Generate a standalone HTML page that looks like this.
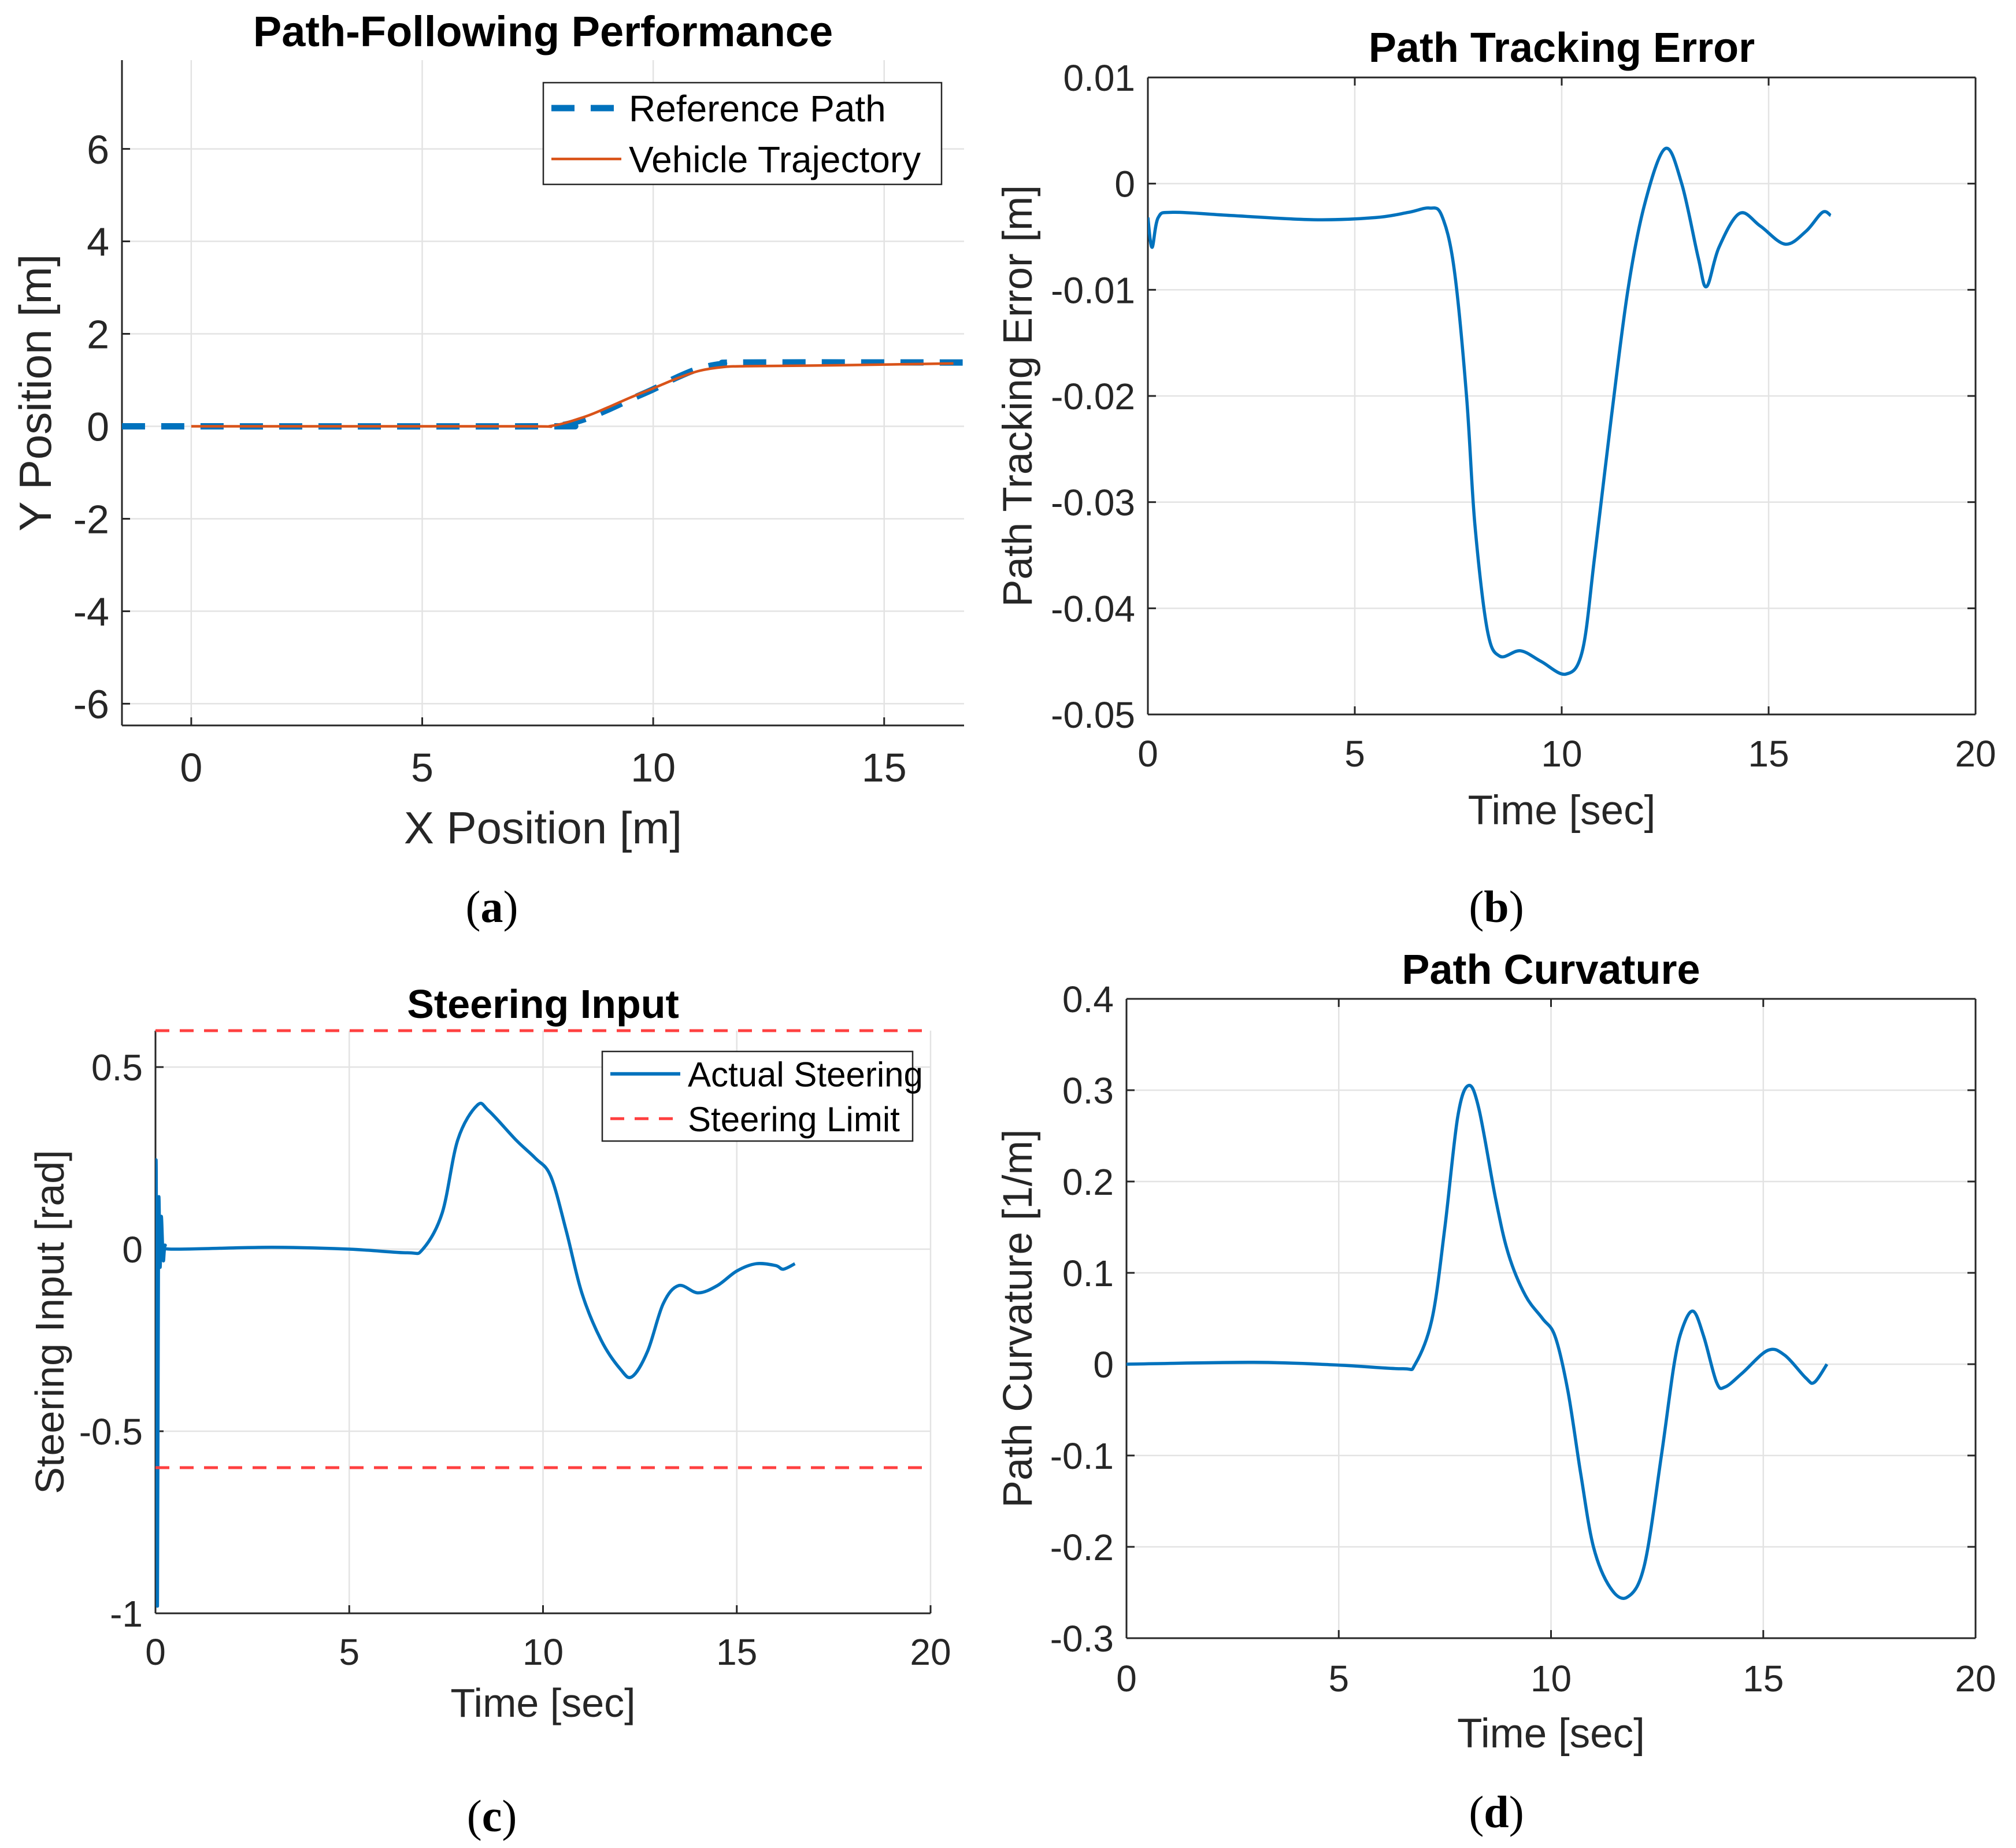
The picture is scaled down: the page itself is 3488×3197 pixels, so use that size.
<!DOCTYPE html>
<html><head><meta charset="utf-8"><style>
html,body{margin:0;padding:0;background:#fff;}
svg{display:block;font-family:"Liberation Sans",Arial,sans-serif;}
.cap{font-family:"Liberation Serif",serif;}
</style></head><body>
<svg id="fig" width="3488" height="3197" viewBox="0 0 3488 3197" xmlns="http://www.w3.org/2000/svg"></svg>
<script>
// ---- Panel (a) data ----
const refX = [-1.5, 7.5, 8, 8.5, 9, 9.5, 10, 10.5, 11, 11.5, 12, 16.7];
const refY = [0, 0, 0.02, 0.15, 0.35, 0.58, 0.8, 1.05, 1.25, 1.35, 1.38, 1.38];
const vehX = [0, 7, 7.8, 8.5, 9, 9.5, 10, 10.5, 11, 11.5, 12, 14, 16.5];
const vehY = [0, 0, 0.01, 0.2, 0.4, 0.62, 0.82, 1.03, 1.2, 1.28, 1.3, 1.32, 1.36];
const aXTicks = [0, 5, 10, 15];
const aYTicks = [-6, -4, -2, 0, 2, 4, 6];
// ---- Panel (b) data ----
const errT = [0, 0.1, 0.25, 0.6, 2, 4, 5.5, 6.3, 6.8, 7.1, 7.4, 7.7, 7.9, 8.2, 8.5, 9, 9.5, 10.1, 10.5, 10.8, 11.2, 11.6, 12.0, 12.5, 12.9, 13.3, 13.5, 13.8, 14.3, 14.8, 15.4, 15.9, 16.3, 16.5];
const errV = [-0.0032, -0.006, -0.0032, -0.0027, -0.003, -0.0034, -0.0032, -0.0027, -0.0023, -0.003, -0.008, -0.02, -0.032, -0.042, -0.0445, -0.044, -0.045, -0.0462, -0.044, -0.035, -0.022, -0.01, -0.002, 0.0033, 0.0, -0.007, -0.0097, -0.006, -0.0028, -0.004, -0.0057, -0.0045, -0.0027, -0.003];
const bXTicks = [0, 5, 10, 15, 20];
const bYTicks = [0.01, 0, -0.01, -0.02, -0.03, -0.04, -0.05];
const bYLabels = ["0.01", "0", "-0.01", "-0.02", "-0.03", "-0.04", "-0.05"];
// ---- Panel (c) data ----
const steerT = [0, 0.02, 0.05, 0.08, 0.12, 0.15, 0.2, 0.25, 0.4, 3, 5, 6.5, 6.9, 7.4, 7.8, 8.3, 8.6, 9.3, 9.8, 10.2, 10.6, 11.0, 11.5, 12.0, 12.3, 12.7, 13.1, 13.5, 14.0, 14.5, 15.0, 15.5, 16.0, 16.2, 16.5];
const steerV = [0, 0.2, -0.98, 0.1, -0.05, 0.09, -0.03, 0.01, 0, 0.005, 0, -0.01, 0, 0.1, 0.3, 0.395, 0.38, 0.3, 0.25, 0.2, 0.05, -0.12, -0.25, -0.33, -0.35, -0.28, -0.15, -0.1, -0.12, -0.1, -0.06, -0.04, -0.045, -0.055, -0.04];
const steerLimit = [0.6, -0.6];
const cXTicks = [0, 5, 10, 15, 20];
const cYTicks = [0.5, 0, -0.5, -1];
const cYLabels = ["0.5", "0", "-0.5", "-1"];
// ---- Panel (d) data ----
const curT = [0, 3, 5, 6.5, 6.8, 7.2, 7.5, 7.8, 8.05, 8.3, 8.7, 9.0, 9.4, 9.8, 10.1, 10.4, 10.7, 11.0, 11.4, 11.8, 12.2, 12.6, 12.9, 13.1, 13.35, 13.6, 13.9, 14.1, 14.5, 15.1, 15.5, 16.0, 16.2, 16.5];
const curV = [0, 0.002, -0.001, -0.005, 0.0, 0.05, 0.15, 0.27, 0.305, 0.28, 0.18, 0.12, 0.075, 0.05, 0.03, -0.03, -0.12, -0.2, -0.245, -0.255, -0.22, -0.1, 0.0, 0.04, 0.058, 0.03, -0.02, -0.025, -0.01, 0.015, 0.01, -0.015, -0.02, 0.0];
const dXTicks = [0, 5, 10, 15, 20];
const dYTicks = [0.4, 0.3, 0.2, 0.1, 0, -0.1, -0.2, -0.3];
const dYLabels = ["0.4", "0.3", "0.2", "0.1", "0", "-0.1", "-0.2", "-0.3"];

const NS = "http://www.w3.org/2000/svg";
const svg = document.getElementById('fig');
function mk(tag, attrs, parent) {
  const e = document.createElementNS(NS, tag);
  for (const k in attrs) e.setAttribute(k, attrs[k]);
  (parent || svg).appendChild(e);
  return e;
}
function txt(s, attrs, parent) { const e = mk('text', attrs, parent); e.textContent = s; return e; }
function scale(d0, d1, r0, r1) { return v => r0 + (v - d0) / (d1 - d0) * (r1 - r0); }
function smoothPath(xs, ys, sx, sy) {
  const P = xs.map((x, i) => [sx(x), sy(ys[i])]);
  let d = "M" + P[0][0].toFixed(1) + "," + P[0][1].toFixed(1);
  for (let i = 0; i < P.length - 1; i++) {
    const p0 = P[Math.max(0, i - 1)], p1 = P[i], p2 = P[i + 1], p3 = P[Math.min(P.length - 1, i + 2)];
    const c1 = [p1[0] + (p2[0] - p0[0]) / 6, p1[1] + (p2[1] - p0[1]) / 6];
    const c2 = [p2[0] - (p3[0] - p1[0]) / 6, p2[1] - (p3[1] - p1[1]) / 6];
    d += " C" + c1.map(v => v.toFixed(1)).join(",") + " " + c2.map(v => v.toFixed(1)).join(",") + " " + p2[0].toFixed(1) + "," + p2[1].toFixed(1);
  }
  return d;
}
function axes(o) {
  const g = mk('g', {});
  
  
  const sx = scale(o.xd[0], o.xd[1], o.L, o.R), sy = scale(o.yd[0], o.yd[1], o.B, o.T);
  const grid = mk('g', {}, g);
  
  
  o.xt.forEach(v => mk('line', {x1: sx(v), x2: sx(v), y1: o.T, y2: o.B, stroke: '#e3e3e3', 'stroke-width': 2.5}, grid));
  o.yt.forEach(v => mk('line', {x1: o.L, x2: o.R, y1: sy(v), y2: sy(v), stroke: '#e3e3e3', 'stroke-width': 2.5}, grid));
  const ax = mk('g', {stroke: '#262626', 'stroke-width': 3, fill: 'none'}, g);
  
  
  mk('line', {x1: o.L, x2: o.L, y1: o.T, y2: o.B}, ax);
  mk('line', {x1: o.L, x2: o.R, y1: o.B, y2: o.B}, ax);
  if (o.box) { mk('line', {x1: o.L, x2: o.R, y1: o.T, y2: o.T}, ax); mk('line', {x1: o.R, x2: o.R, y1: o.T, y2: o.B}, ax); }
  o.xt.forEach(v => { mk('line', {x1: sx(v), x2: sx(v), y1: o.B, y2: o.B - 14}, ax); if (o.box) mk('line', {x1: sx(v), x2: sx(v), y1: o.T, y2: o.T + 14}, ax); });
  o.yt.forEach(v => { mk('line', {x1: o.L, x2: o.L + 14, y1: sy(v), y2: sy(v)}, ax); if (o.box) mk('line', {x1: o.R, x2: o.R - 14, y1: sy(v), y2: sy(v)}, ax); });
  o.xt.forEach((v, i) => { const t = txt(String(v), {x: sx(v), y: o.xty, 'font-size': o.fs, 'text-anchor': 'middle', fill: '#262626'}, g);
      });
  o.yt.forEach((v, i) => { const t = txt(o.yl ? o.yl[i] : String(v), {x: o.L - 22, y: sy(v) + o.fs * 0.36, 'font-size': o.fs, 'text-anchor': 'end', fill: '#262626'}, g);
      });
  const tt = txt(o.title, {x: (o.L + o.R) / 2, y: o.titleY, 'font-size': o.tfs, 'font-weight': 'bold', 'text-anchor': 'middle', fill: '#000'}, g);
   
  const xl = txt(o.xlabel, {x: (o.L + o.R) / 2, y: o.xly, 'font-size': o.lfs, 'text-anchor': 'middle', fill: '#262626'}, g);
   
  const yc = (o.T + o.B) / 2;
  const yl = txt(o.ylabel, {x: o.ylx, y: yc, 'font-size': o.lfs, 'text-anchor': 'middle', fill: '#262626', transform: 'rotate(-90 ' + o.ylx + ' ' + yc + ')'}, g);
   
  const cap = txt('', {x: o.capX, y: o.capY, 'font-size': 78, 'text-anchor': 'middle', fill: '#000', class: 'cap'}, g);
  cap.innerHTML = '(<tspan font-weight="bold">' + o.cap + '</tspan>)';
   
  const clipId = 'clip-' + o.name;
  const cp = mk('clipPath', {id: clipId}, g);
  mk('rect', {x: o.L, y: o.T - 10, width: o.R - o.L, height: o.B - o.T + 20}, cp);
  const plot = mk('g', {'clip-path': 'url(#' + clipId + ')'}, g);
  return {g, plot, sx, sy};
}
function legend(g, x, y, w, h, entries, fs) {
  const lg = mk('g', {}, g);
  
  
  mk('rect', {x, y, width: w, height: h, fill: '#fff', stroke: '#262626', 'stroke-width': 2.5}, lg);
  entries.forEach((e, i) => {
    const cy = y + h * (i + 0.5) / entries.length;
    const l = mk('line', {x1: x + 14, x2: x + 135, y1: cy, y2: cy, stroke: e.c, 'stroke-width': e.w, 'stroke-dasharray': e.dash || 'none'}, lg);
     
    const t = txt(e.t, {x: x + 148, y: cy + fs * 0.36, 'font-size': fs, fill: '#000'}, lg);
     
  });
}
const BLUE = '#0072BD';
// Panel a
{
  const A = axes({name: 'panel-a', L: 211, R: 1668, T: 104, B: 1255, xd: [-1.5, 16.73], yd: [-6.47, 7.92], xt: aXTicks, yt: aYTicks, box: false,
    fs: 70, tfs: 74, lfs: 78, xty: 1352, xly: 1459, ylx: 88, title: 'Path-Following Performance', titleY: 80,
    xlabel: 'X Position [m]', ylabel: 'Y Position [m]', cap: 'a', capX: 851, capY: 1595});
  const r = mk('path', {d: smoothPath(refX, refY, A.sx, A.sy), fill: 'none', stroke: BLUE, 'stroke-width': 11, 'stroke-dasharray': '40 28'}, A.plot);
   
  const v = mk('path', {d: smoothPath(vehX, vehY, A.sx, A.sy), fill: 'none', stroke: '#D95319', 'stroke-width': 4.5}, A.plot);
   
  legend(A.g, 940, 143, 689, 176, [{t: 'Reference Path', c: BLUE, w: 11, dash: '40 28'}, {t: 'Vehicle Trajectory', c: '#D95319', w: 4.5}], 64);
}
// Panel b
{
  const B = axes({name: 'panel-b', L: 1986, R: 3418, T: 134, B: 1236, xd: [0, 20], yd: [-0.05, 0.01], xt: bXTicks, yt: bYTicks, yl: bYLabels, box: true,
    fs: 64, tfs: 72, lfs: 71, xty: 1326, xly: 1426, ylx: 1785, title: 'Path Tracking Error', titleY: 107,
    xlabel: 'Time [sec]', ylabel: 'Path Tracking Error [m]', cap: 'b', capX: 2589, capY: 1595});
  const p = mk('path', {d: smoothPath(errT, errV, B.sx, B.sy), fill: 'none', stroke: BLUE, 'stroke-width': 5.5}, B.plot);
   
}
// Panel c
{
  const C = axes({name: 'panel-c', L: 269, R: 1610, T: 1783, B: 2791, xd: [0, 20], yd: [-1, 0.6], xt: cXTicks, yt: cYTicks, yl: cYLabels, box: false,
    fs: 64, tfs: 70, lfs: 70, xty: 2880, xly: 2970, ylx: 110, title: 'Steering Input', titleY: 1761,
    xlabel: 'Time [sec]', ylabel: 'Steering Input [rad]', cap: 'c', capX: 851, capY: 3168});
  steerLimit.forEach(v => {
    const l = mk('line', {x1: C.sx(0), x2: C.sx(20), y1: C.sy(v), y2: C.sy(v), stroke: '#FF4040', 'stroke-width': 5, 'stroke-dasharray': '24 18'}, C.g);
     
  });
  const p = mk('path', {d: smoothPath(steerT, steerV, C.sx, C.sy), fill: 'none', stroke: BLUE, 'stroke-width': 5.5, 'stroke-linejoin': 'round'}, C.plot);
   
  legend(C.g, 1042, 1819, 537, 155, [{t: 'Actual Steering', c: BLUE, w: 6}, {t: 'Steering Limit', c: '#FF4040', w: 5, dash: '24 18'}], 60);
}
// Panel d
{
  const D = axes({name: 'panel-d', L: 1949, R: 3418, T: 1728, B: 2834, xd: [0, 20], yd: [-0.3, 0.4], xt: dXTicks, yt: dYTicks, yl: dYLabels, box: true,
    fs: 64, tfs: 72, lfs: 71, xty: 2926, xly: 3023, ylx: 1785, title: 'Path Curvature', titleY: 1702,
    xlabel: 'Time [sec]', ylabel: 'Path Curvature [1/m]', cap: 'd', capX: 2589, capY: 3161});
  const p = mk('path', {d: smoothPath(curT, curV, D.sx, D.sy), fill: 'none', stroke: BLUE, 'stroke-width': 5.5}, D.plot);
   
}
</script>
</body></html>
